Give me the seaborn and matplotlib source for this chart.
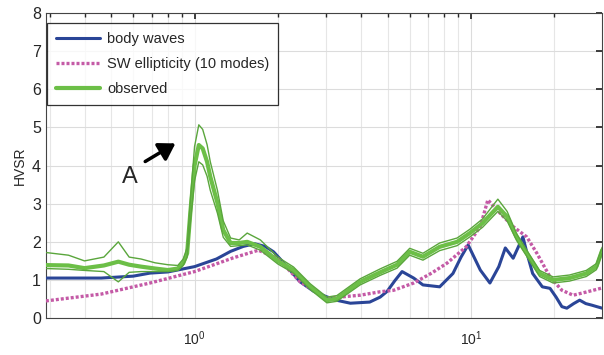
import numpy as np
import pandas as pd
import matplotlib
matplotlib.use("Agg")
import matplotlib.pyplot as plt
import seaborn as sns

sns.set_theme(style="white")
plt.rcParams['font.family'] = ['Liberation Sans', 'DejaVu Sans']

# body waves
bw_f = [0.29, 0.35, 0.46, 0.6, 0.69, 0.8, 1.0, 1.2, 1.35, 1.5, 1.65, 1.8, 1.93, 2.1, 2.41, 2.7, 3.0, 3.3, 3.66, 4.3, 4.69, 4.97, 5.3, 5.63, 6.2, 6.7, 7.7, 8.6, 9.2, 9.76, 10.8, 11.7, 12.6, 13.3, 14.2, 15.4, 16.0, 16.7, 18.1, 19.3, 20.3, 21.3, 22.2, 23.5, 24.7, 26.0, 27.3, 28.5, 29.8]
bw_v = [1.05, 1.05, 1.05, 1.1, 1.18, 1.21, 1.35, 1.55, 1.75, 1.88, 1.95, 1.88, 1.74, 1.45, 0.95, 0.70, 0.56, 0.46, 0.39, 0.42, 0.55, 0.70, 0.98, 1.22, 1.05, 0.87, 0.82, 1.17, 1.60, 1.92, 1.26, 0.92, 1.35, 1.84, 1.57, 2.13, 1.65, 1.17, 0.82, 0.78, 0.55, 0.30, 0.26, 0.38, 0.47, 0.38, 0.34, 0.30, 0.26]

# SW ellipticity
sw_f = [0.29, 0.46, 0.69, 1.0, 1.38, 1.7, 2.0, 2.41, 3.0, 3.97, 4.69, 5.25, 6.2, 7.2, 8.18, 9.6, 10.8, 11.5, 12.7, 14.2, 15.9, 17.3, 19.3, 21.3, 23.4, 26.0, 29.8]
sw_v = [0.45, 0.63, 0.92, 1.22, 1.58, 1.78, 1.57, 0.95, 0.52, 0.60, 0.69, 0.73, 0.92, 1.18, 1.44, 1.87, 2.40, 3.10, 2.76, 2.40, 2.13, 1.70, 1.08, 0.73, 0.60, 0.68, 0.79]

# observed (mean, upper, lower)
ob_f = [0.29, 0.35, 0.40, 0.47, 0.53, 0.58, 0.64, 0.72, 0.80, 0.87, 0.91, 0.94, 0.967, 1.0, 1.036, 1.07, 1.11, 1.14, 1.21, 1.27, 1.35, 1.45, 1.55, 1.73, 2.0, 2.28, 2.62, 3.01, 3.27, 3.97, 4.69, 5.4, 6.0, 6.7, 7.7, 8.9, 9.9, 11.0, 12.5, 13.5, 14.6, 15.9, 17.7, 19.8, 22.7, 26.1, 28.4, 29.8]
ob_v = [1.39, 1.38, 1.31, 1.38, 1.48, 1.40, 1.35, 1.30, 1.26, 1.30, 1.44, 1.70, 2.83, 4.0, 4.54, 4.45, 4.10, 3.71, 3.02, 2.31, 1.97, 1.97, 2.00, 1.87, 1.50, 1.26, 0.82, 0.47, 0.51, 0.95, 1.20, 1.40, 1.74, 1.61, 1.87, 2.00, 2.23, 2.49, 2.92, 2.66, 2.13, 1.70, 1.17, 1.00, 1.05, 1.17, 1.35, 1.78]
ob_hi = [1.72, 1.65, 1.50, 1.60, 2.00, 1.60, 1.55, 1.45, 1.40, 1.38, 1.55, 1.85, 3.15, 4.5, 5.07, 4.95, 4.55, 4.10, 3.35, 2.55, 2.10, 2.05, 2.23, 2.05, 1.60, 1.34, 0.90, 0.55, 0.59, 1.03, 1.29, 1.49, 1.83, 1.70, 1.97, 2.10, 2.33, 2.60, 3.12, 2.80, 2.22, 1.78, 1.25, 1.08, 1.13, 1.25, 1.43, 1.86]
ob_lo = [1.30, 1.28, 1.25, 1.22, 0.95, 1.20, 1.22, 1.22, 1.22, 1.25, 1.38, 1.60, 2.55, 3.6, 4.10, 4.02, 3.72, 3.35, 2.75, 2.12, 1.88, 1.90, 1.92, 1.78, 1.42, 1.18, 0.75, 0.40, 0.44, 0.87, 1.12, 1.31, 1.65, 1.52, 1.77, 1.90, 2.13, 2.38, 2.80, 2.55, 2.04, 1.62, 1.09, 0.92, 0.97, 1.09, 1.27, 1.70]

fig = plt.figure(figsize=(6.04, 3.55), dpi=100)
ax = fig.add_axes([0.076, 0.104, 0.921, 0.859])

green = '#6cbf47'
green_d = '#5aa63c'
blue = '#2a4597'
mag = '#c45aa6'

df_obs = pd.DataFrame({'f': ob_f, 'v': ob_v, 'hi': ob_hi, 'lo': ob_lo})
df_bw = pd.DataFrame({'f': bw_f, 'v': bw_v})
df_sw = pd.DataFrame({'f': sw_f, 'v': sw_v})

sns.lineplot(data=df_bw, x='f', y='v', ax=ax, color=blue, lw=2.2, label='body waves', zorder=3)
sns.lineplot(data=df_sw, x='f', y='v', ax=ax, color=mag, lw=2.4, ls=(0, (0.9, 0.6)), label='SW ellipticity (10 modes)', zorder=3)
sns.lineplot(data=df_obs, x='f', y='v', ax=ax, color=green, lw=3.0, label='observed', zorder=4)
sns.lineplot(data=df_obs, x='f', y='hi', ax=ax, color=green_d, lw=1.0, zorder=4)
sns.lineplot(data=df_obs, x='f', y='lo', ax=ax, color=green_d, lw=1.0, zorder=4)

ax.set_xscale('log')
ax.set_xlim(0.29, 29.8)
ax.set_ylim(0, 8)
ax.set_yticks(range(0, 9))
ax.set_xlabel('')
ax.set_ylabel('HVSR', fontsize=10)
ax.grid(True, which='major', color='#dcdcdc', lw=0.8)
ax.grid(True, which='minor', axis='x', color='#e6e6e6', lw=0.8)
ax.tick_params(which='both', direction='in', top=True, right=True, labelsize=11.5)
ax.tick_params(which='major', length=4)
ax.tick_params(which='minor', length=3)
ax.tick_params(axis='x', labelsize=10, pad=8)
for s in ax.spines.values():
    s.set_color('#444444')
    s.set_linewidth(0.8)

leg = ax.legend(loc='upper left', bbox_to_anchor=(0.0, 0.972), fontsize=10.5, frameon=True,
                fancybox=False, edgecolor='black', handlelength=3.0, borderpad=0.6,
                labelspacing=0.75, handletextpad=0.5, borderaxespad=0.1)
leg.get_frame().set_linewidth(0.9)

ax.annotate('', xy=(0.87, 4.62), xytext=(0.65, 4.07),
            arrowprops=dict(arrowstyle='-|>,head_length=0.8,head_width=0.5', color='black', lw=2.5))
ax.text(0.585, 3.7, 'A', fontsize=17, ha='center', va='center')

fig.savefig('out.png', dpi=100)
